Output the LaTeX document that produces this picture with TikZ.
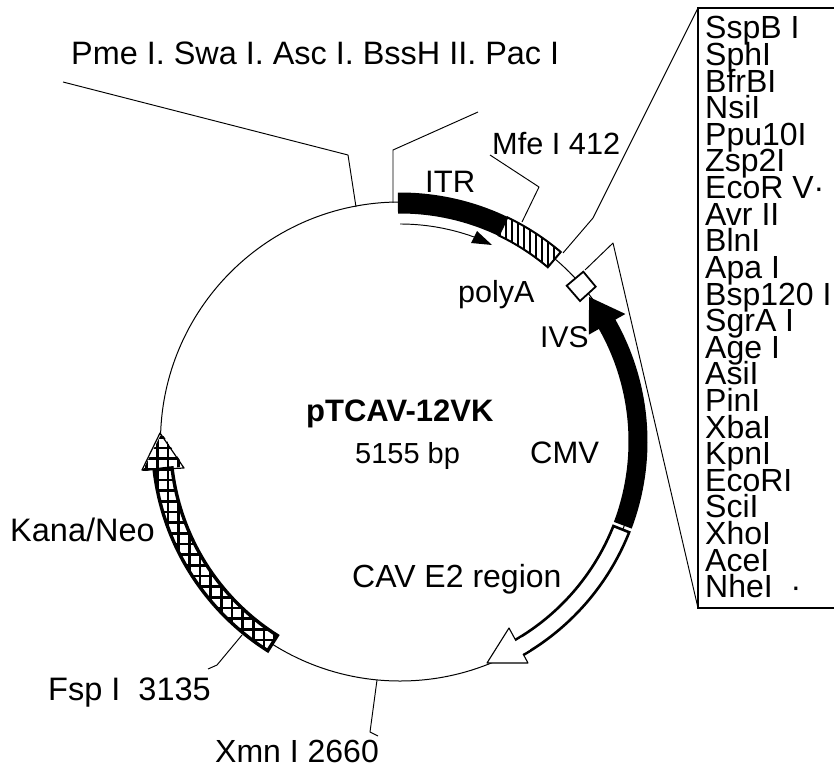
\documentclass[tikz,border=0pt]{standalone}
\usepackage{fontspec}
\setmainfont{Liberation Sans}
\newcommand\Pol[2]{({400+(#2)*cos(#1)},{441.5-(#2)*sin(#1)})}
% arrow outline: start angle, head-base angle, tip angle, radius, shaft half width, head half width
\newcommand\ArrowPath[6]{
  plot[domain=#1:#2,samples=60] ({400+(#4+#5)*cos(\x)},{441.5-(#4+#5)*sin(\x)}) --
  \Pol{#2}{#4+#6} -- \Pol{#3}{#4} -- \Pol{#2}{#4-#6} --
  plot[domain=#2:#1,samples=60] ({400+(#4-#5)*cos(\x)},{441.5-(#4-#5)*sin(\x)}) -- cycle}
\newcommand\BandPath[4]{
  plot[domain=#1:#2,samples=40] ({400+(#3+#4)*cos(\x)},{441.5-(#3+#4)*sin(\x)}) --
  plot[domain=#2:#1,samples=40] ({400+(#3-#4)*cos(\x)},{441.5-(#3-#4)*sin(\x)}) -- cycle}
\newcommand\FS[1]{\fontsize{#1}{#1}\selectfont}
\tikzset{
  lab/.style={anchor=base west,inner sep=0pt,font=\FS{#1}},
  lab/.default=32,
  enz/.style={anchor=base west,inner sep=0pt,font=\FS{32}},
  leader/.style={draw=black,line width=0.95pt,line join=round},
  ring/.style={draw=black,line width=1pt},
}
\begin{document}
\begin{tikzpicture}[x=1pt,y=-1pt]
\useasboundingbox (0,0) rectangle (834,767);
\fill[white] (0,0) rectangle (834,767);
% backbone
\coordinate (ctr) at (400,441.5);
\draw[ring] (ctr) circle[radius=239.5pt];
% leaders
\coordinate (p1) at (63,82); \coordinate (p2) at (348,155); \coordinate (p3) at (356,207);
\draw[leader] (p1) -- (p2) -- (p3);
\coordinate (q1) at (478,112); \coordinate (q2) at (393,150); \coordinate (q3) at (393,203);
\draw[leader] (q1) -- (q2) -- (q3);
\coordinate (m1) at (490,155); \coordinate (m2) at (539,187); \coordinate (m3) at (522,222);
\draw[leader] (m1) -- (m2) -- (m3);
\coordinate (l1) at (698,8); \coordinate (l2) at (593,218); \coordinate (l3) at (563,253);
\draw[leader] (l1) -- (l2) -- (l3);
\coordinate (t1) at (585,270); \coordinate (t2) at (613,243); \coordinate (t3) at (698,608);
\draw[leader] (t1) -- (t2) -- (t3);
\coordinate (f1) at (242,635); \coordinate (f2) at (217,665); \coordinate (f3) at (208,669);
\draw[leader] (f1) -- (f2) -- (f3);
\coordinate (x1) at (377,680); \coordinate (x2) at (370,732); \coordinate (x3) at (378,736);
\draw[leader] (x1) -- (x2) -- (x3);
% enzyme list frame
\coordinate (b0) at (834,8); \coordinate (b1) at (834,608);
\draw[line width=1.3pt] (b0) -- (l1) -- (t3) -- (b1);
% ITR black
\fill[black] \BandPath{64.4}{90.5}{238.5}{10.5};
% hatched polyA part
\begin{scope}
  \clip \BandPath{49.7}{64.4}{238.5}{10.5};
  \fill[white] (490,210) rectangle (570,280);
  \foreach \k in {0,...,12} {\draw[line width=2.4pt] ({500+6*\k},210) -- ({500+6*\k},280);}
\end{scope}
\draw[line width=2pt] \BandPath{49.7}{64.4}{238.5}{10};
% polyA direction
\coordinate (pa) at (400,224);
\draw[line width=0.95pt] plot[domain=90:70,samples=30] ({400+217.5*cos(\x)},{441.5-217.5*sin(\x)});
\fill[black] (492,245) -- (477,231) -- (471,243) -- cycle;
% small box
\draw[line width=1.8pt,fill=white] (566.7,285.7) -- (583.3,271.7) -- (595.7,286.7) -- (580,301) -- cycle;
% CMV
\fill[black] \ArrowPath{-20.6}{29.5}{37.4}{238}{9.5}{21};
% CAV E2
\draw[line width=2.6pt,fill=white,line join=miter] \BandPath{-59.8}{-21.6}{238}{8.5};
\draw[line width=1.1pt,fill=white,line join=round] (509,628) -- (487,663) -- (528,663) -- cycle;
\fill[white] \BandPath{-60.5}{-58}{238}{7.2};
% Kana/Neo
\begin{scope}
  \clip \ArrowPath{237.7}{186.6}{178}{238.5}{9.5}{21};
  \fill[white] (130,420) rectangle (290,660);
  \foreach \k in {0,...,15} {
    \draw[line width=2.8pt] ({136+10.67*\k},420) -- ({136+10.67*\k},660);}
  \foreach \k in {0,...,24} {
    \draw[line width=2.8pt] (130,{426.6+10.67*\k}) -- (290,{426.6+10.67*\k});}
\end{scope}
\draw[line width=1.2pt,line join=round] (142,470) -- (160,433) -- (184,468) -- cycle;
\draw[line width=3.4pt] \BandPath{186.6}{237.7}{238.5}{9};
% labels
\node[lab=32.4] (n1) at (71,65) {Pme I. Swa I. Asc I. BssH II. Pac I};
\node[lab=31] (n2) at (425,193) {ITR};
\node[lab=30.7] (n3) at (492,155) {Mfe I 412};
\node[lab=30.5] (n4) at (458,302) {polyA};
\node[lab=30] (n5) at (540,347) {IVS};
\node[lab=31,font=\FS{31}\bfseries] (n6) at (306,421) {pTCAV-12VK};
\node[lab=29] (n7) at (355,463) {5155 bp};
\node[lab=31] (n8) at (530,463) {CMV};
\node[lab=32] (n9) at (352,587) {CAV E2 region};
\node[lab=32.5] (n10) at (10,541) {Kana/Neo};
\node[lab=32.5] (n11) at (48,700) {Fsp I\ \ 3135};
\node[lab=32] (n12) at (215,762) {Xmn I 2660};
% enzymes
\foreach \t [count=\i from 0] in {SspB I,SphI,BfrBI,NsiI,Ppu10I,Zsp2I,EcoR V·,Avr II,BlnI,Apa I,Bsp120 I,SgrA I,Age I,AsiI,PinI,XbaI,KpnI,EcoRI,SciI,XhoI,AceI,NheI\ \ ·} {
  \node[enz] (e\i) at (705,{39+26.6*\i}) {\t};
}
\end{tikzpicture}
\end{document}
